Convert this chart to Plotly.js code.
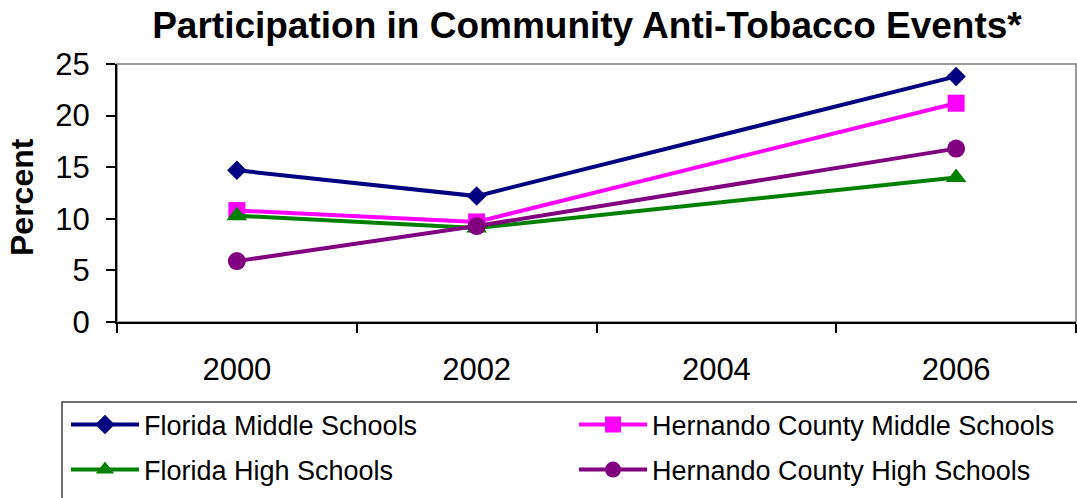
<!DOCTYPE html>
<html>
<head>
<meta charset="utf-8">
<script src="https://cdn.plot.ly/plotly-3.0.1.min.js"></script>
<style>html,body{margin:0;padding:0;background:#fff;}#chart{width:1077px;height:498px;}</style>
</head>
<body>
<div id="chart"></div>
<script>
// Data
var years = ['2000', '2002', '2004', '2006'];
var dataYears = ['2000', '2002', '2006'];
var floridaMiddle = [14.7, 12.2, 23.8];
var hernandoMiddle = [10.8, 9.7, 21.2];
var floridaHigh = [10.3, 9.1, 14.0];
var hernandoHigh = [5.9, 9.3, 16.8];
var seriesNames = ['Florida Middle Schools', 'Hernando County Middle Schools', 'Florida High Schools', 'Hernando County High Schools'];
var yTicks = [0, 5, 10, 15, 20, 25];
var yTitle = 'Percent';

var FONT = '"Liberation Sans", Arial, sans-serif';
var W = 1077, H = 498;
var mL = 117, mR = 1, mT = 64, mB = 176;
var plotW = W - mL - mR, plotH = H - mT - mB;
function px2x(p) { return (p - mL) / plotW; }
function py2y(p) { return (H - mB - p) / plotH; }

function mk(name, y, color, symbol, size, legend) {
  return {
    type: 'scatter', mode: 'lines+markers', name: name,
    x: dataYears, y: y, legend: legend,
    line: {color: color, width: 4},
    marker: {color: color, symbol: symbol, size: size},
    cliponaxis: false
  };
}

var traces = [
  mk(seriesNames[0], floridaMiddle, '#000080', 'diamond', 15, 'legend'),
  mk(seriesNames[1], hernandoMiddle, '#FF00FF', 'square', 17, 'legend2'),
  mk(seriesNames[2], floridaHigh, '#008000', 'triangle-up', 18, 'legend3'),
  mk(seriesNames[3], hernandoHigh, '#800080', 'circle', 18, 'legend4')
];

function leg(xp, yp) {
  return {
    orientation: 'v', xref: 'container', yref: 'container',
    x: xp / W, y: 1 - yp / H, xanchor: 'left', yanchor: 'middle',
    font: {family: FONT, size: 27, color: '#000'},
    bgcolor: 'rgba(0,0,0,0)', borderwidth: 0,
    itemwidth: 68,
    itemclick: false, itemdoubleclick: false
  };
}

var layout = {
  width: W, height: H,
  margin: {l: mL, r: mR, t: mT, b: mB, pad: 0, autoexpand: false},
  paper_bgcolor: '#fff', plot_bgcolor: '#fff',
  showlegend: true,
  title: {
    text: '<b>Participation in Community Anti-Tobacco Events*</b>',
    font: {family: FONT, size: 37, color: '#000'},
    xref: 'container', x: 0.545, xanchor: 'center',
    yref: 'container', y: 1 - 25 / H, yanchor: 'middle'
  },
  xaxis: {
    type: 'category', categoryorder: 'array', categoryarray: years,
    tickvals: years, ticktext: years,
    range: [-0.5, 3.5], tickson: 'boundaries',
    ticks: 'outside', ticklen: 9, tickwidth: 2, tickcolor: '#000',
    showline: true, linecolor: '#000', linewidth: 2,
    showgrid: false, zeroline: false,
    tickfont: {family: FONT, size: 31, color: '#000'},
    ticklabelstandoff: 19, fixedrange: true
  },
  yaxis: {
    range: [0, 25], tickvals: yTicks,
    ticks: 'outside', ticklen: 9, tickwidth: 2, tickcolor: '#000',
    showline: true, linecolor: '#000', linewidth: 2,
    showgrid: false, zeroline: false,
    tickfont: {family: FONT, size: 31, color: '#000'},
    ticklabelstandoff: 10,
    fixedrange: true
  },
  annotations: [
    {text: '<b>' + yTitle + '</b>', xref: 'paper', yref: 'paper',
     x: px2x(22), y: py2y(197), xanchor: 'center', yanchor: 'middle',
     textangle: -90, showarrow: false,
     font: {family: FONT, size: 32, color: '#000'}}
  ],
  legend: leg(66, 425),
  legend2: leg(574, 425),
  legend3: leg(66, 470),
  legend4: leg(574, 470),
  shapes: [
    {type: 'rect', xref: 'paper', yref: 'paper', x0: 0, x1: 1, y0: 0, y1: 1,
     line: {color: '#9a9a9a', width: 2}, layer: 'below'},
    {type: 'rect', xref: 'paper', yref: 'paper', x0: px2x(62), x1: px2x(1100), y0: py2y(402), y1: py2y(520),
     line: {color: '#404040', width: 1.5}, layer: 'below'}
  ]
};

Plotly.newPlot('chart', traces, layout, {displayModeBar: false, staticPlot: true});
</script>
</body>
</html>
